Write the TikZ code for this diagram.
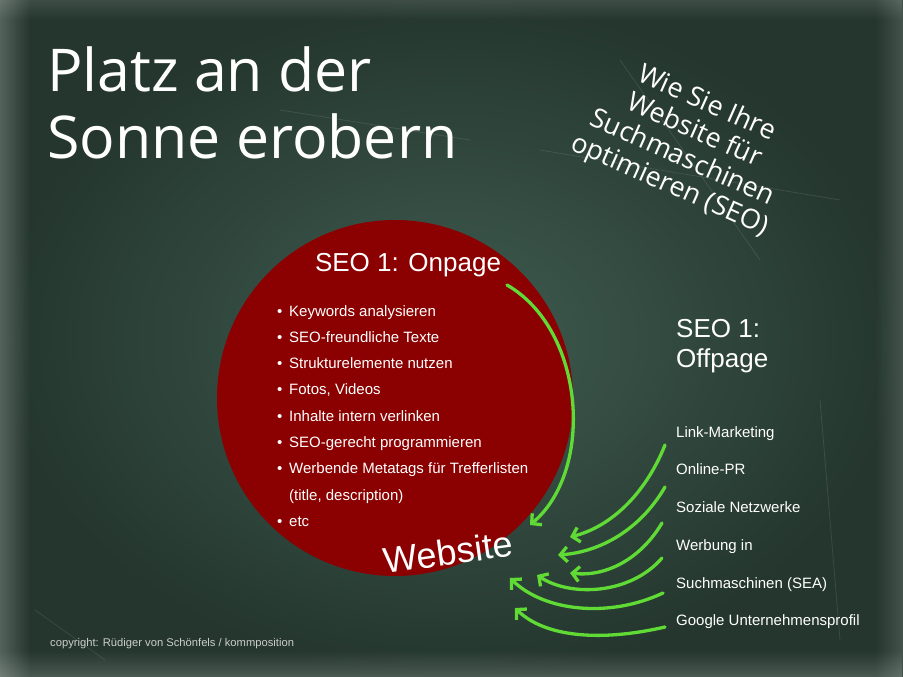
\documentclass[tikz,border=0pt]{standalone}
\usepackage{fontspec}
\setmainfont{Liberation Sans}
\newfontfamily\handfont{Open Sans}
\usetikzlibrary{arrows.meta,fadings}
\definecolor{boardlight}{RGB}{64,92,80}
\definecolor{boarddark}{RGB}{36,54,46}
\definecolor{seored}{RGB}{139,0,0}
\definecolor{chalkgreen}{RGB}{96,218,52}
\definecolor{copygray}{RGB}{205,205,205}
\tikzset{
  arr/.style={draw=chalkgreen, line width=3.3pt, line cap=round,
    -{Straight Barb[length=7pt,width=15pt,line width=3.3pt]}},
  bul/.style={anchor=base west, text=white, font=\fontsize{15}{17}\selectfont, inner sep=0pt},
  off/.style={anchor=base west, text=white, font=\fontsize{15}{17}\selectfont, inner sep=0pt},
  head/.style={text=white, inner sep=0pt, font=\fontsize{26}{30}\selectfont},
  chalk/.style={white, opacity=0.10, line width=0.8pt},
}
\begin{document}
\begin{tikzpicture}[x=1pt,y=-1pt]
\useasboundingbox (0,0) rectangle (903,677);
% board
\shade[inner color=boardlight, outer color=boarddark] (0,0) rectangle (903,677);
% chalk smudges at edges
\fill[white, opacity=0.22, path fading=east] (0,0) rectangle (30,677);
\fill[white, opacity=0.18, path fading=north] (0,650) rectangle (903,677);
\fill[white, opacity=0.15, path fading=west] (875,0) rectangle (903,677);
\fill[white, opacity=0.12, path fading=south] (0,0) rectangle (903,20);
\draw[chalk] (35,610) -- (105,660);
\draw[chalk] (620,60) -- (760,260);
\draw[chalk] (540,150) -- (840,200);
\draw[chalk] (280,110) -- (470,140);
\draw[chalk] (820,400) -- (840,640);
% title
\node[anchor=base west, text=white, inner sep=0pt,
  font=\handfont\fontsize{59}{66}\selectfont] (title) at (47,92) {Platz an der};
\node[anchor=base west, text=white, inner sep=0pt,
  font=\handfont\fontsize{59}{66}\selectfont] (title2) at (47,158) {Sonne erobern};
% subtitle
\node[rotate=-24, text=white, align=center, inner sep=0pt,
  font=\handfont\fontsize{27}{30}\selectfont] (sub) at (688,145)
  {Wie Sie Ihre\\Website für\\Suchmaschinen\\optimieren (SEO)};
% circle
\fill[seored] (395,398) circle (178);
\node[head] (onpage) at (408,265) {SEO 1: Onpage};
% bullet list
\foreach \t [count=\i] in {Keywords analysieren, SEO-freundliche Texte, Strukturelemente nutzen,
  {Fotos, Videos}, Inhalte intern verlinken, SEO-gerecht programmieren,
  Werbende Metatags für Trefferlisten}{
  \node[bul] (b\i) at (277,{316+26.3*(\i-1)}) {•};
  \node[bul] (t\i) at (289,{316+26.3*(\i-1)}) {\t};
}
\node[bul] (t8) at (289,500) {(title, description)};
\node[bul] (b9) at (277,526) {•};
\node[bul] (t9) at (289,526) {etc};
% website
\node[rotate=8, text=white, font=\fontsize{36}{40}\selectfont, inner sep=0pt] (web) at (448,552) {Website};
% offpage
\node[head, anchor=base west, align=left] (offhead) at (676,367) {SEO 1:\\Offpage};
\node[off] (o1) at (676,437) {Link-Marketing};
\node[off] (o2) at (676,474) {Online-PR};
\node[off] (o3) at (676,512) {Soziale Netzwerke};
\node[off] (o4) at (676,550) {Werbung in};
\node[off] (o5) at (676,588) {Suchmaschinen (SEA)};
\node[off] (o6) at (676,625) {Google Unternehmensprofil};
% copyright
\node[anchor=base west, text=copygray, inner sep=0pt, font=\fontsize{11.2}{13}\selectfont] (copy) at (50,646)
  {copyright: Rüdiger von Schönfels / kommposition};
% arrows
\coordinate (bigS) at (507,285);
\coordinate (bigE) at (530,525);
\draw[arr] (bigS) .. controls (585,330) and (595,470) .. (bigE);
\coordinate (s1) at (665,445); \coordinate (e1) at (570,537);
\coordinate (s2) at (665,487); \coordinate (e2) at (558,555);
\coordinate (s3) at (662,523); \coordinate (e3) at (570,573);
\coordinate (s4) at (662,558); \coordinate (e4) at (537,575);
\coordinate (s5) at (663,593); \coordinate (e5) at (510,578);
\coordinate (s6) at (665,627); \coordinate (e6) at (515,608);
\draw[arr] (s1) .. controls (645,495) and (610,527) .. (e1);
\draw[arr] (s2) .. controls (640,530) and (600,552) .. (e2);
\draw[arr] (s3) .. controls (640,560) and (605,577) .. (e3);
\draw[arr] (s4) .. controls (630,595) and (570,597) .. (e4);
\draw[arr] (s5) .. controls (610,618) and (545,612) .. (e5);
\draw[arr] (s6) .. controls (600,642) and (545,637) .. (e6);
\end{tikzpicture}
\end{document}
